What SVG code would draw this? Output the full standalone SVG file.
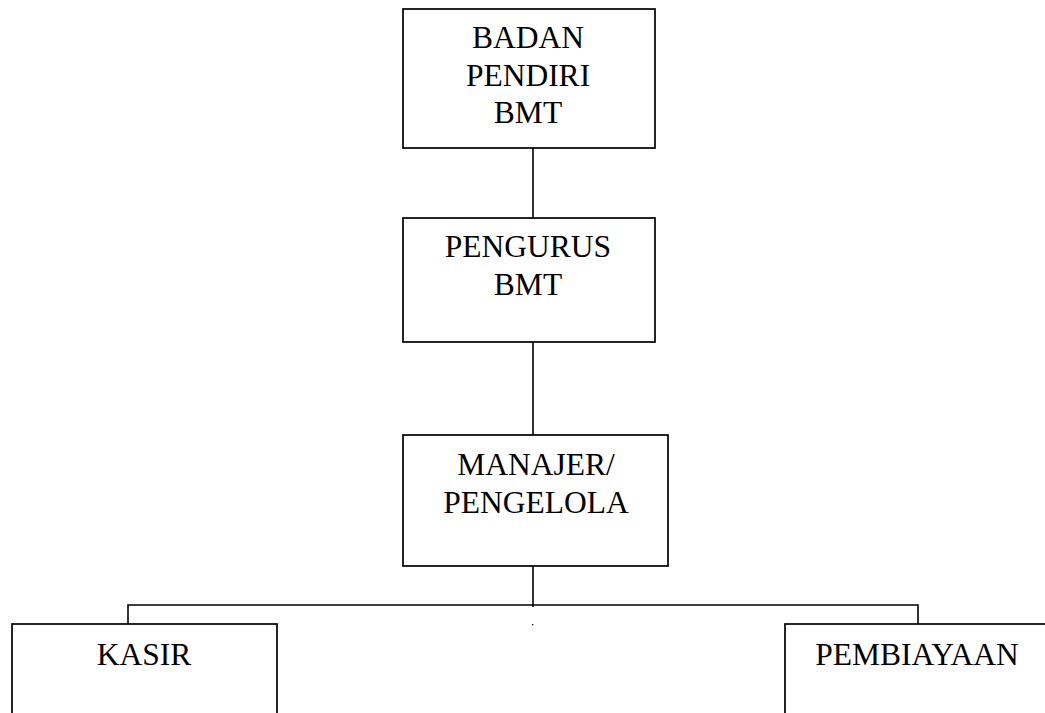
<svg xmlns="http://www.w3.org/2000/svg" width="1045" height="713" viewBox="0 0 1045 713">
<style>
.box{fill:#fff;stroke:#000;stroke-width:1.7}
.lbl{font-size:31.5px;fill:#000;text-anchor:middle}
.con{stroke:#000;stroke-width:1.6;fill:none}
</style>
<rect width="1045" height="713" fill="#fff"/>
<g id="connectors">
<line class="con" x1="533" y1="148" x2="533" y2="218"/>
<line class="con" x1="533" y1="342" x2="533" y2="435"/>
<line class="con" x1="533" y1="566" x2="533" y2="607"/>
<polyline class="con" points="128,624 128,605 918,605 918,624"/>
<rect x="532" y="624" width="1.2" height="1.2" fill="#000"/>
</g>
<g font-family="Liberation Serif, DejaVu Serif, serif">
<g id="badan-pendiri">
<rect class="box" x="403" y="9" width="252" height="139"/>
<text class="lbl" x="528" y="48">BADAN</text>
<text class="lbl" x="528" y="86">PENDIRI</text>
<text class="lbl" x="528" y="123">BMT</text>
</g>
<g id="pengurus">
<rect class="box" x="403" y="218" width="252" height="124"/>
<text class="lbl" x="528" y="257">PENGURUS</text>
<text class="lbl" x="528" y="295">BMT</text>
</g>
<g id="manajer">
<rect class="box" x="403" y="435" width="265" height="131"/>
<text class="lbl" x="536" y="475">MANAJER/</text>
<text class="lbl" x="536" y="513">PENGELOLA</text>
</g>
<g id="kasir">
<rect class="box" x="12" y="624" width="265" height="110"/>
<text class="lbl" x="144" y="665">KASIR</text>
</g>
<g id="pembiayaan">
<rect class="box" x="785" y="624" width="280" height="110"/>
<text class="lbl" x="917" y="665">PEMBIAYAAN</text>
</g>
</g>
</svg>
